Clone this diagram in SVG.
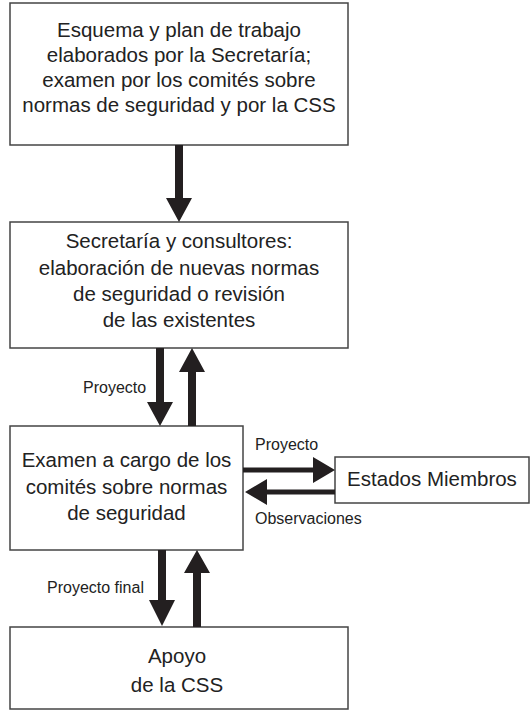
<svg xmlns="http://www.w3.org/2000/svg" width="532" height="712" viewBox="0 0 532 712">
<style>
.box{fill:#fff;stroke:#444;stroke-width:1.5}
.t{font-family:"Liberation Sans",Arial,sans-serif;font-size:20.5px;fill:#222;text-anchor:middle}
.l{font-family:"Liberation Sans",Arial,sans-serif;font-size:16px;fill:#222}
.a{fill:#231f20}
</style>
<rect width="532" height="712" fill="#fff"/>
<g id="n1">
<rect class="box" x="10" y="3" width="338" height="142"/>
<text class="t" x="179" y="37">Esquema y plan de trabajo</text>
<text class="t" x="179" y="62">elaborados por la Secretaría;</text>
<text class="t" x="179" y="87">examen por los comités sobre</text>
<text class="t" x="179" y="112">normas de seguridad y por la CSS</text>
</g>
<g id="n2">
<rect class="box" x="10" y="222" width="338" height="126"/>
<text class="t" x="179" y="248">Secretaría y consultores:</text>
<text class="t" x="179" y="275">elaboración de nuevas normas</text>
<text class="t" x="179" y="301">de seguridad o revisión</text>
<text class="t" x="179" y="327">de las existentes</text>
</g>
<g id="n3">
<rect class="box" x="10" y="426" width="233" height="124"/>
<text class="t" x="126.5" y="467">Examen a cargo de los</text>
<text class="t" x="126.5" y="494">comités sobre normas</text>
<text class="t" x="126.5" y="520">de seguridad</text>
</g>
<g id="n4">
<rect class="box" x="335" y="457" width="194" height="46"/>
<text class="t" x="432" y="486">Estados Miembros</text>
</g>
<g id="n5">
<rect class="box" x="10" y="627" width="338" height="82"/>
<text class="t" x="177" y="663">Apoyo</text>
<text class="t" x="177" y="692">de la CSS</text>
</g>
<g id="connectors">
<polygon class="a" points="175,145 183,145 183,198 192,198 179,222 166,198 175,198"/>
<polygon class="a" points="156,348 164,348 164,402 173,402 160,426 147,402 156,402"/>
<polygon class="a" points="188,426 196,426 196,372 205,372 192,348 179,372 188,372"/>
<polygon class="a" points="243,467.5 313,467.5 313,457 335,470 313,483 313,472.5 243,472.5"/>
<polygon class="a" points="335,489.5 267,489.5 267,479 245,492 267,505 267,494.5 335,494.5"/>
<polygon class="a" points="158,550 166,550 166,600 175,600 162,626 149,600 158,600"/>
<polygon class="a" points="193,627 201,627 201,573 210,573 197,550 184,573 193,573"/>
<text class="l" x="83" y="393">Proyecto</text>
<text class="l" x="255" y="450">Proyecto</text>
<text class="l" x="255" y="524">Observaciones</text>
<text class="l" x="47" y="593">Proyecto final</text>
</g>
</svg>
